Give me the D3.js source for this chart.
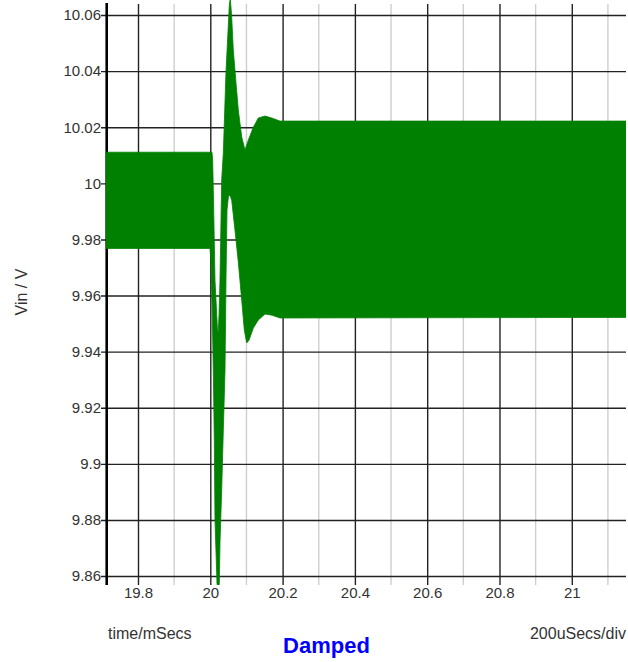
<!DOCTYPE html>
<html><head><meta charset="utf-8">
<script src="https://cdn.jsdelivr.net/npm/d3@7"></script>
<style>
body{margin:0;background:#fff;}
svg{display:block;}
text{font-family:Arial,"Liberation Sans",sans-serif;}
</style>
</head><body>
<svg id="c" width="628" height="662"></svg>
<script>
// ---- data ----
const xTicks = [19.8, 20, 20.2, 20.4, 20.6, 20.8, 21];
const xMinor = [19.9, 20.1, 20.3, 20.5, 20.7, 20.9, 21.1];
const yTicks = [9.86, 9.88, 9.9, 9.92, 9.94, 9.96, 9.98, 10, 10.02, 10.04, 10.06];

// upper envelope of Vin (ripple band top)
const upperTime = [19.711, 20.0047, 20.0065, 20.0083, 20.013, 20.0199, 20.0221, 20.0241, 20.0268, 20.0315, 20.036, 20.0434, 20.0526, 20.0553, 20.0592, 20.0636, 20.0711, 20.0775, 20.0869, 20.096, 20.1051, 20.119, 20.1328, 20.1513, 20.1698, 20.1928, 21.15];
const upperVolt = [10.0111, 10.0111, 10.0083, 9.998, 9.9655, 9.9477, 9.947, 9.953, 9.9655, 10.0012, 10.0108, 10.0397, 10.0636, 10.066, 10.0593, 10.0475, 10.0358, 10.0261, 10.0165, 10.0119, 10.0154, 10.020, 10.0233, 10.024, 10.0233, 10.0222, 10.0222];

// lower envelope of Vin (ripple band bottom)
const lowerTime = [19.711, 19.9992, 20.0019, 20.0047, 20.0083, 20.0111, 20.013, 20.0185, 20.0219, 20.0249, 20.0268, 20.0315, 20.036, 20.0407, 20.0434, 20.0462, 20.0503, 20.0545, 20.0592, 20.0683, 20.0775, 20.0869, 20.0941, 20.1007, 20.1071, 20.119, 20.1328, 20.1513, 20.1707, 20.1928, 21.15];
const lowerVolt = [9.9768, 9.9768, 9.9719, 9.9584, 9.9334, 9.9085, 9.880, 9.8575, 9.854, 9.8575, 9.8718, 9.8907, 9.912, 9.9334, 9.9655, 9.9905, 9.9955, 9.9958, 9.994, 9.9833, 9.9719, 9.9584, 9.9477, 9.9431, 9.9441, 9.9484, 9.9513, 9.9534, 9.953, 9.952, 9.9522];

const xLabel = "time/mSecs";
const yLabel = "Vin / V";
const divLabel = "200uSecs/div";
const title = "Damped";

// ---- layout ----
const L = 106.7, R = 626, T = 3, B = 585;
const svg = d3.select("#c");
const x = d3.scaleLinear().domain([19.7134, 21.15]).range([L, R]);
const y = d3.scaleLinear().domain([9.8568, 10.0643]).range([B, T]);
const gridCol = "#222";

// minor vertical grid
svg.append("g").selectAll("line").data(xMinor).join("line")
  .attr("x1", d => x(d)).attr("x2", d => x(d))
  .attr("y1", 4).attr("y2", B)
  .attr("stroke", "#cfcfcf").attr("stroke-width", 1.4);

// x axis with major grid lines
const gx = svg.append("g").attr("transform", `translate(0,${B})`)
  .call(d3.axisBottom(x).tickValues(xTicks).tickSize(-(B - 4)).tickPadding(2)
    .tickFormat(d3.format("~g")));
gx.select(".domain").remove();
gx.selectAll(".tick line").attr("stroke", gridCol).attr("stroke-width", 1.4);
gx.selectAll(".tick text").attr("fill", "#333").attr("font-size", 15)
  .attr("font-family", "Arial, 'Liberation Sans', sans-serif");

// y axis with grid lines
const gy = svg.append("g").attr("transform", `translate(101,0)`)
  .call(d3.axisLeft(y).tickValues(yTicks).tickSize(-(R - 101)).tickPadding(0)
    .tickFormat(d3.format("~g")));
gy.select(".domain").remove();
gy.selectAll(".tick line").attr("stroke", gridCol).attr("stroke-width", 1.4);
gy.selectAll(".tick text").attr("fill", "#333").attr("font-size", 15)
  .attr("font-family", "Arial, 'Liberation Sans', sans-serif");

// left axis line
svg.append("line").attr("x1", L).attr("x2", L).attr("y1", T).attr("y2", B)
  .attr("stroke", "#000").attr("stroke-width", 2.6);

// clip
svg.append("clipPath").attr("id", "clip").append("rect")
  .attr("x", 105.5).attr("y", 0).attr("width", R - 105.5).attr("height", B);

// waveform band
const upper = upperTime.map((t, i) => [t, upperVolt[i]]);
const lower = lowerTime.map((t, i) => [t, lowerVolt[i]]);
const poly = upper.concat(lower.slice().reverse());
const line = d3.line().x(d => x(d[0])).y(d => y(d[1]));
svg.append("path").attr("d", line(poly) + "Z")
  .attr("fill", "#008000").attr("stroke", "#008000").attr("stroke-width", 0.8)
  .attr("clip-path", "url(#clip)");

// labels
svg.append("text").attr("x", 108).attr("y", 639).attr("font-size", 16).attr("fill", "#333").text(xLabel);
svg.append("text").attr("x", 626).attr("y", 639).attr("text-anchor", "end").attr("font-size", 16).attr("fill", "#333").text(divLabel);
svg.append("text").attr("transform", "translate(27,292) rotate(-90)").attr("text-anchor", "middle")
  .attr("font-size", 16).attr("fill", "#333").text(yLabel);
svg.append("text").attr("x", 326.5).attr("y", 653).attr("text-anchor", "middle")
  .attr("font-size", 22).attr("font-weight", "bold").attr("fill", "#0000ff").text(title);
</script>
</body></html>
